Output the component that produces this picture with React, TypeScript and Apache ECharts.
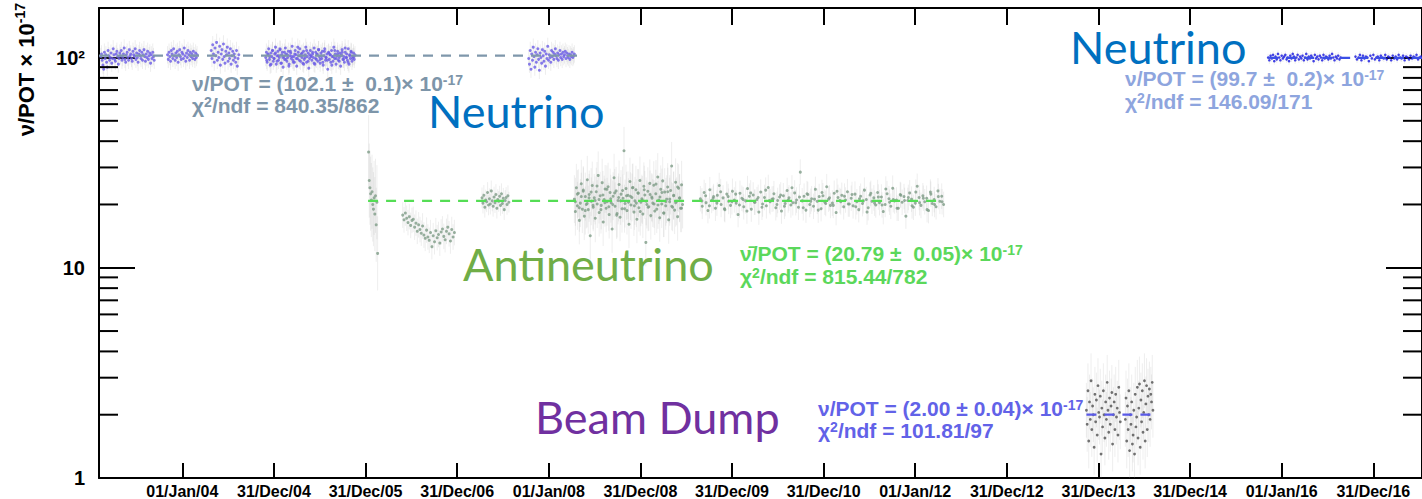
import React, { useEffect, useRef } from 'react';
import * as echarts from 'echarts';

// x values are days counted from 01/Jan/04
const X_TICK_DAYS = [0, 365, 730, 1095, 1460, 1825, 2190, 2555, 2920, 3285, 3650, 4015, 4380, 4745];
const X_TICK_LABELS = ['01/Jan/04', '31/Dec/04', '31/Dec/05', '31/Dec/06', '01/Jan/08', '31/Dec/08', '31/Dec/09', '31/Dec/10', '01/Jan/12', '31/Dec/12', '31/Dec/13', '31/Dec/14', '01/Jan/16', '31/Dec/16'];
const X_MIN = -332;
const X_MAX = 4939;
const Y_MIN = 1;
const Y_MAX = 172;
const Y_MINOR_TICKS = [2, 3, 4, 5, 6, 7, 8, 9, 20, 30, 40, 50, 60, 70, 80, 90];

// Neutrino run 1 (nu/POT x 1e-17)
const NU1_A_DAYS = [-325, -112];
const NU1_A = [101, 104, 97, 92, 88, 106, 99, 103, 95, 90, 108, 102, 97, 100, 105, 94, 99, 110, 103, 98, 96, 104, 107, 101, 93, 99, 105, 102, 108, 97, 100, 104, 111, 98, 95, 103, 106, 100, 97, 109, 102, 104, 99, 96, 107, 103, 101, 110, 98, 105, 100, 95, 104, 108, 102, 99, 106, 97, 103, 109, 101, 96, 104, 100, 107, 98, 102, 105, 94, 103, 99, 106, 101, 97];
const NU1_B_DAYS = [-59, 59];
const NU1_B = [103, 98, 106, 101, 96, 108, 104, 99, 110, 102, 97, 105, 100, 107, 95, 103, 109, 101, 98, 106, 104, 99, 111, 102, 96, 105, 100, 108, 103, 97, 106, 101, 104, 99, 107, 102, 98, 105, 100, 103];
const NU1_C_DAYS = [115, 225];
const NU1_C = [108, 99, 115, 104, 95, 111, 102, 118, 97, 106, 100, 113, 92, 104, 109, 98, 116, 101, 94, 107, 103, 112, 96, 105, 99, 110, 93, 102, 107, 97, 104, 100, 95, 108, 91, 99, 103];
const NU1_D_DAYS = [332, 688];
const NU1_D = [100, 106, 95, 103, 110, 98, 92, 105, 101, 108, 96, 99, 104, 112, 93, 102, 107, 97, 100, 109, 94, 103, 106, 90, 101, 98, 111, 104, 96, 100, 107, 93, 102, 105, 99, 113, 97, 101, 95, 108, 103, 91, 99, 106, 102, 110, 96, 104, 100, 94, 107, 98, 103, 112, 95, 101, 105, 89, 99, 108, 102, 97, 104, 100, 111, 93, 106, 98, 103, 96, 109, 101, 94, 105, 99, 107, 92, 102, 110, 97, 100, 104, 88, 106, 98, 103, 95, 108, 101, 96, 112, 99, 104, 93, 102, 107, 97, 100, 105, 91, 103, 109, 98, 101, 95, 106, 100, 104, 97, 110, 93, 102, 99, 106, 96, 101, 105, 98, 103];
const NU1_D2_DAYS = [336, 684];
const NU1_D2 = [97, 104, 101, 93, 108, 99, 105, 96, 102, 110, 94, 100, 106, 98, 103, 91, 107, 101, 95, 104, 99, 112, 97, 102, 105, 93, 100, 108, 96, 103, 101, 106, 94, 99, 104, 109, 98, 102, 95, 107, 100, 97, 105, 103, 92, 101, 108, 99, 104, 96, 102, 106, 98, 111, 100, 95, 103, 107, 99, 101];
const NU1_E_DAYS = [1380, 1562];
const NU1_E = [99, 93, 108, 88, 104, 97, 112, 101, 90, 106, 95, 103, 110, 98, 87, 105, 100, 94, 109, 102, 96, 107, 91, 104, 99, 113, 97, 103, 100, 95, 108, 101, 106, 98, 104, 110, 102, 99, 105, 97, 103, 108, 100, 104, 98, 106, 101, 103, 107, 99, 105, 102, 100, 104, 98, 103, 101, 106, 100, 102, 104];
const NU1_ERR = 0.1;

// Neutrino run 2
const NU2_A_DAYS = [4326, 4615];
const NU2_A = [100, 97, 102, 99, 103, 96, 101, 98, 104, 100, 97, 102, 99, 101, 103, 98, 100, 96, 102, 99, 104, 101, 97, 100, 103, 98, 101, 99, 102, 97, 100, 104, 98, 101, 99, 102, 100, 96, 103, 99, 101, 98, 102, 100, 97, 103, 99, 101, 100, 98, 102, 99, 104, 100, 97, 101, 99, 102, 98, 100];
const NU2_B_DAYS = [4674, 4935];
const NU2_B = [101, 98, 100, 103, 97, 102, 99, 101, 100, 96, 102, 99, 103, 98, 100, 101, 97, 102, 100, 99, 103, 98, 101, 100, 97, 102, 99, 101, 98, 103, 100, 99, 102, 97, 101, 100, 98, 102, 99, 101, 100, 103, 98, 100, 101];
const NU2_ERR = 0.04;

// Antineutrino runs
const AN_1_DAYS = [742, 778];
const AN_1 = [35.5, 26, 24, 22.5, 21, 23, 20, 19, 21.5, 18, 22, 16, 20.5, 11.7];
const AN_2_DAYS = [878, 1084];
const AN_2 = [17.8, 16.9, 18.2, 17.2, 16.4, 17.5, 15.9, 16.8, 17.0, 15.6, 16.3, 14.9, 16.0, 15.2, 14.6, 15.8, 14.3, 13.8, 15.1, 14.0, 13.5, 14.7, 12.6, 14.2, 13.3, 15.0, 13.9, 14.4, 13.1, 14.8, 15.3, 14.1, 13.6, 14.9, 15.6, 14.5, 13.4, 15.2, 14.0, 14.7];
const AN_3_DAYS = [1194, 1301];
const AN_3 = [21.5, 20.3, 22.1, 19.4, 21.0, 20.6, 22.8, 19.9, 21.3, 20.1, 23.2, 20.8, 19.6, 21.7, 20.4, 22.3, 19.2, 21.1, 20.7, 21.9, 19.8, 22.5, 20.2, 21.4, 18.9, 20.9, 21.6, 20.0, 22.0, 20.5];
const AN_4_DAYS = [1562, 1993];
const AN_4 = [21.2, 18.5, 24.0, 19.7, 22.6, 16.8, 20.3, 25.1, 19.0, 23.4, 17.6, 21.8, 20.0, 26.2, 18.9, 22.3, 14.2, 20.7, 24.6, 19.4, 21.5, 17.2, 23.0, 20.1, 27.5, 18.3, 22.0, 19.8, 25.4, 16.5, 21.1, 23.7, 19.2, 20.6, 24.3, 17.9, 22.8, 20.4, 15.3, 21.9, 26.8, 19.6, 23.2, 18.1, 20.9, 24.9, 17.4, 22.4, 19.1, 21.4, 36.0, 20.2, 23.8, 18.7, 22.1, 16.1, 25.7, 19.9, 21.6, 24.1, 18.4, 20.8, 23.5, 17.0, 22.7, 19.3, 26.0, 20.5, 21.3, 18.0, 24.4, 22.2, 13.2, 20.0, 23.1, 19.5, 25.2, 17.7, 21.7, 20.3, 24.7, 18.6, 22.5, 19.0, 27.0, 21.0, 17.3, 23.6, 20.1, 25.9, 18.2, 22.9, 19.7, 21.2, 24.2, 16.9, 20.6, 23.3, 30.5, 19.4, 22.0, 18.8, 25.5, 20.7, 17.5, 23.9, 21.4, 19.2, 24.8, 20.0];
const AN_4B_DAYS = [1566, 1989];
const AN_4B = [20.6, 22.4, 19.3, 21.8, 23.1, 18.7, 20.2, 21.5, 22.9, 19.8, 20.9, 24.5, 21.1, 18.9, 22.2, 20.4, 23.6, 19.5, 21.3, 20.0, 22.7, 17.8, 21.6, 20.8, 23.3, 19.1, 22.0, 20.5, 21.9, 24.0, 19.7, 20.3, 22.6, 18.5, 21.0, 23.5, 20.7, 19.4, 22.3, 21.4, 20.1, 25.0, 19.9, 21.7, 22.8, 18.2, 20.6, 23.0, 21.2, 19.6, 22.1, 20.4, 24.2, 21.5, 19.2];
const AN_5_DAYS = [2064, 3033];
const AN_5 = [21.3, 19.6, 22.8, 20.4, 18.7, 23.5, 20.9, 21.8, 19.2, 22.1, 24.6, 20.0, 21.5, 18.9, 22.4, 20.7, 19.8, 23.1, 21.0, 20.3, 17.9, 22.6, 21.4, 19.5, 20.8, 23.8, 21.9, 19.0, 22.2, 20.5, 21.1, 18.4, 22.9, 20.1, 21.6, 19.7, 24.1, 20.6, 21.2, 22.5, 19.3, 20.9, 21.7, 18.6, 22.0, 20.2, 23.3, 21.5, 19.9, 20.4, 22.7, 21.0, 19.4, 28.5, 20.8, 21.9, 18.8, 22.3, 20.0, 21.3, 19.6, 23.6, 20.7, 21.8, 19.1, 22.0, 20.5, 24.3, 21.2, 19.8, 20.3, 22.6, 18.3, 21.6, 20.9, 22.1, 19.5, 21.0, 23.0, 20.1, 21.4, 19.7, 22.4, 20.6, 18.9, 21.9, 20.2, 23.4, 21.1, 19.3, 22.2, 20.7, 21.5, 19.9, 22.8, 20.4, 21.7, 18.5, 20.0, 22.5, 21.3, 19.6, 23.9, 20.8, 21.0, 19.2, 22.3, 20.5, 21.8, 17.6, 20.9, 22.7, 21.2, 19.4, 20.3, 24.4, 21.6, 19.8, 22.0, 20.6, 21.4, 18.7, 22.9, 20.2, 21.1, 19.5, 23.2, 20.7, 21.9, 20.0];
const AN_5B_DAYS = [2070, 3027];
const AN_5B = [20.8, 22.0, 19.7, 21.4, 20.3, 23.0, 19.1, 21.8, 20.6, 22.4, 19.9, 21.1, 18.6, 22.7, 20.5, 21.6, 19.4, 23.4, 20.9, 21.3, 20.0, 22.2, 19.6, 21.0, 24.0, 20.4, 21.7, 19.3, 22.5, 20.7, 21.2, 18.8, 22.8, 20.2, 21.5, 19.8, 23.1, 20.6, 21.9, 20.1, 22.3, 19.5, 21.3, 20.8, 18.4, 22.6, 20.3, 21.7, 19.9, 23.7, 20.5, 21.1, 19.2, 22.1, 20.9, 21.6, 19.7, 22.9, 20.4, 21.4, 18.9, 22.4, 20.0, 21.8, 20.6];
const AN_ERR = [0.5, 0.15, 0.12, 0.3, 0.15];

// Beam dump
const BD_A_DAYS = [3602, 3737];
const BD_A = [2.1, 1.8, 2.6, 1.5, 2.3, 1.9, 2.9, 1.7, 2.2, 2.0, 1.4, 2.5, 1.85, 2.35, 1.6, 2.75, 2.05, 1.95, 2.45, 1.3, 2.15, 1.75, 2.6, 2.0, 1.55, 2.3, 1.9, 2.85, 2.1, 1.65, 2.4, 1.8, 2.2, 2.55, 1.45, 2.0, 2.3, 1.7, 2.5, 1.95, 2.15, 1.6, 2.7, 2.05, 1.85];
const BD_B_DAYS = [3757, 3867];
const BD_B = [1.9, 2.4, 1.5, 2.2, 1.7, 2.6, 1.35, 2.0, 1.8, 2.3, 1.45, 1.6, 2.1, 1.3, 2.5, 1.75, 1.95, 2.7, 1.55, 2.15, 2.8, 1.4, 2.35, 1.85, 2.6, 1.65, 2.05, 2.9, 1.5, 2.25, 2.75, 1.7, 2.45, 2.0, 2.65, 1.9, 2.5, 2.3, 2.85, 2.1];
const BD_ERR = 0.35;

// fit results
const NU1_FIT = 102.1;
const NU1_FIT_DAYS = [X_MIN, 1590];
const NU2_FIT = 99.7;
const NU2_FIT_DAYS = [4326, X_MAX];
const AN_FIT = 20.79;
const AN_FIT_DAYS = [740, 3033];
const BD_FIT = 2.0;
const BD_FIT_DAYS = [3602, 3867];

const ROOT_FONT = "'Liberation Sans Narrow', 'Liberation Sans', Arial, sans-serif";
const BIG_FONT = "Lato, 'Open Sans', sans-serif";

function spread(days: number[], values: number[], err: number) {
  const [d0, d1] = days;
  const n = values.length;
  return values.map((v, i) => [d0 + (i * (d1 - d0)) / (n - 1), v, err]);
}

export default function App() {
  const ref = useRef<HTMLDivElement>(null);
  useEffect(() => {
    if (!ref.current) return;
    const chart = echarts.init(ref.current, undefined, { renderer: 'svg' });

    const nu1 = [
      ...spread(NU1_A_DAYS, NU1_A, NU1_ERR),
      ...spread(NU1_B_DAYS, NU1_B, NU1_ERR),
      ...spread(NU1_C_DAYS, NU1_C, NU1_ERR),
      ...spread(NU1_D_DAYS, NU1_D, NU1_ERR),
      ...spread(NU1_D2_DAYS, NU1_D2, NU1_ERR),
      ...spread(NU1_E_DAYS, NU1_E, NU1_ERR),
    ];
    const nu2 = [...spread(NU2_A_DAYS, NU2_A, NU2_ERR), ...spread(NU2_B_DAYS, NU2_B, NU2_ERR)];
    const an = [
      ...spread(AN_1_DAYS, AN_1, AN_ERR[0]),
      ...spread(AN_2_DAYS, AN_2, AN_ERR[1]),
      ...spread(AN_3_DAYS, AN_3, AN_ERR[2]),
      ...spread(AN_4_DAYS, AN_4, AN_ERR[3]),
      ...spread(AN_4B_DAYS, AN_4B, AN_ERR[3]),
      ...spread(AN_5_DAYS, AN_5, AN_ERR[4]),
      ...spread(AN_5B_DAYS, AN_5B, AN_ERR[4]),
    ];
    const bd = [...spread(BD_A_DAYS, BD_A, BD_ERR), ...spread(BD_B_DAYS, BD_B, BD_ERR)];
    const all = [...nu1, ...nu2, ...an, ...bd];

    const axisLine = { show: true, onZero: false, lineStyle: { color: '#000', width: 2 } };
    const tickStyle = { color: '#000', width: 2 };

    const fitLine = (days: number[], v: number, color: string) => ({
      type: 'line',
      data: [[days[0], v], [days[1], v]],
      symbol: 'none',
      silent: true,
      z: 5,
      lineStyle: { color, width: 2.2, type: [10, 8] },
    });

    const richFor = (color: string) => ({
      m: { fontFamily: ROOT_FONT, fontWeight: 'bold', fontSize: 21, lineHeight: 20, fill: color },
      s: { fontFamily: ROOT_FONT, fontWeight: 'bold', fontSize: 14, lineHeight: 20, verticalAlign: 'top', fill: color },
    });

    const fitText = (x: number, y1: number, y2: number, lines: string[], color: string) => [
      { type: 'text', x, y: y1, z: 20, style: { text: lines[0], fill: color, verticalAlign: 'middle', rich: richFor(color) } },
      { type: 'text', x, y: y2, z: 20, style: { text: lines[1], fill: color, verticalAlign: 'middle', rich: richFor(color) } },
    ];

    const bigText = (x: number, y: number, text: string, color: string) => ({
      type: 'text',
      x,
      y,
      z: 20,
      style: { text, fill: color, fontFamily: BIG_FONT, fontSize: 45, lineHeight: 32, verticalAlign: 'middle' },
    });

    chart.setOption({
      animation: false,
      backgroundColor: '#fff',
      grid: { left: 99, top: 8, right: -10, bottom: 19, containLabel: false },
      xAxis: [
        {
          type: 'value', min: X_MIN, max: X_MAX, position: 'bottom',
          splitLine: { show: false },
          axisLine,
          axisTick: { inside: true, length: 15, customValues: X_TICK_DAYS, lineStyle: tickStyle },
          axisLabel: {
            customValues: X_TICK_DAYS,
            formatter: (v: number) => X_TICK_LABELS[X_TICK_DAYS.indexOf(Math.round(v))] ?? '',
            margin: 5, fontFamily: ROOT_FONT, fontWeight: 'bold', fontSize: 16, color: '#000',
          },
        },
        {
          type: 'value', min: X_MIN, max: X_MAX, position: 'top',
          splitLine: { show: false },
          axisLine,
          axisTick: { inside: true, length: 17, customValues: X_TICK_DAYS, lineStyle: tickStyle },
          axisLabel: { show: false },
        },
      ],
      yAxis: [
        {
          type: 'log', logBase: 10, min: Y_MIN, max: Y_MAX, position: 'left',
          splitLine: { show: false },
          axisLine,
          axisTick: { inside: true, length: 36, lineStyle: tickStyle },
          axisLabel: {
            margin: 14,
            fontFamily: ROOT_FONT, fontWeight: 'bold', fontSize: 20, color: '#000',
            formatter: (v: number) => {
              const r = Math.round(v);
              if (r === 100) return '10²';
              if (r === 10 || r === 1) return String(r);
              return '';
            },
          },
        },
        {
          type: 'log', logBase: 10, min: Y_MIN, max: Y_MAX, position: 'right',
          splitLine: { show: false },
          axisLine,
          axisTick: { inside: true, length: 36, lineStyle: tickStyle },
          axisLabel: { show: false },
        },
      ],
      series: [
        {
          type: 'custom',
          name: 'errors',
          silent: true,
          clip: true,
          z: 1,
          data: all,
          encode: { x: 0, y: 1 },
          renderItem: (params: any, api: any) => {
            const x = api.value(0);
            const y = api.value(1);
            const e = api.value(2);
            const p1 = api.coord([x, y * (1 + e)]);
            const p2 = api.coord([x, y / (1 + e)]);
            return {
              type: 'line',
              shape: { x1: p1[0], y1: p1[1], x2: p2[0], y2: p2[1] },
              style: { stroke: 'rgba(160,160,160,0.18)', lineWidth: 1 },
            };
          },
        },
        { type: 'scatter', name: 'nu1', data: nu1, symbolSize: 3, z: 3, itemStyle: { color: '#6a5be6' } },
        { type: 'scatter', name: 'nu2', data: nu2, symbolSize: 2.6, z: 3, itemStyle: { color: '#1414e0' } },
        { type: 'scatter', name: 'anti', data: an, symbolSize: 3, z: 3, itemStyle: { color: '#7e9c87' } },
        { type: 'scatter', name: 'dump', data: bd, symbolSize: 2.8, z: 3, itemStyle: { color: '#505050' } },
        fitLine(NU1_FIT_DAYS, NU1_FIT, '#7f97ab'),
        fitLine(NU2_FIT_DAYS, NU2_FIT, '#3a4ee6'),
        fitLine(AN_FIT_DAYS, AN_FIT, '#55dd55'),
        fitLine(BD_FIT_DAYS, BD_FIT, '#5a5ae8'),
        {
          type: 'custom',
          name: 'minorTicks',
          silent: true,
          clip: false,
          z: 6,
          data: Y_MINOR_TICKS.map((v) => [X_MIN, v]),
          encode: { x: 0, y: 1 },
          renderItem: (params: any, api: any) => {
            const cs = params.coordSys;
            const y = api.coord([X_MIN, api.value(1)])[1];
            return {
              type: 'group',
              children: [
                { type: 'line', shape: { x1: cs.x, y1: y, x2: cs.x + 19, y2: y }, style: { stroke: '#000', lineWidth: 2 } },
                { type: 'line', shape: { x1: cs.x + cs.width, y1: y, x2: cs.x + cs.width - 19, y2: y }, style: { stroke: '#000', lineWidth: 2 } },
              ],
            };
          },
        },
      ],
      graphic: [
        {
          type: 'text',
          x: 26,
          y: 3,
          rotation: Math.PI / 2,
          style: {
            text: '{m|ν/POT × 10}{s|-17}',
            align: 'right',
            verticalAlign: 'middle',
            rich: {
              m: { fontFamily: ROOT_FONT, fontWeight: 'bold', fontSize: 22, lineHeight: 26, fill: '#000' },
              s: { fontFamily: ROOT_FONT, fontWeight: 'bold', fontSize: 14, lineHeight: 26, verticalAlign: 'top', fill: '#000' },
            },
          },
        },
        ...fitText(192, 83, 105, ['{m|ν/POT = (102.1 ±  0.1)× 10}{s|-17}', '{m|χ}{s|2}{m|/ndf = 840.35/862}'], '#7d95a9'),
        ...fitText(1125, 78, 101, ['{m|ν/POT = (99.7 ±  0.2)× 10}{s|-17}', '{m|χ}{s|2}{m|/ndf = 146.09/171}'], '#8ea5de'),
        ...fitText(740, 253, 276, ['{m|ν̄/POT = (20.79 ±  0.05)× 10}{s|-17}', '{m|χ}{s|2}{m|/ndf = 815.44/782}'], '#5bd85b'),
        ...fitText(818, 408, 430, ['{m|ν/POT = (2.00 ± 0.04)× 10}{s|-17}', '{m|χ}{s|2}{m|/ndf = 101.81/97}'], '#6262e8'),
        bigText(428, 111, 'Neutrino', '#0070C0'),
        bigText(1070, 47, 'Neutrino', '#0070C0'),
        bigText(463, 264, 'Antineutrino', '#70AD47'),
        bigText(535, 417, 'Beam Dump', '#7030A0'),
      ],
    });
    return () => chart.dispose();
  }, []);
  return <div ref={ref} style={{ position: 'absolute', left: 0, top: 0, width: 1422, height: 499 }} />;
}
